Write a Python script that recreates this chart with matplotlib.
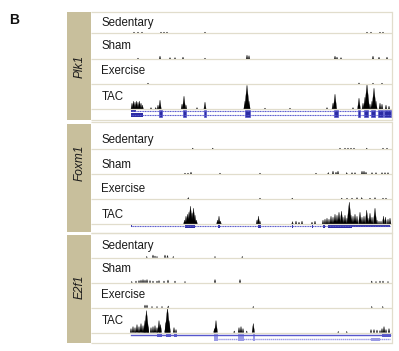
import matplotlib
matplotlib.use("Agg")
import matplotlib.pyplot as plt
from matplotlib.patches import Rectangle

plt.rcParams['font.family'] = ['Liberation Sans', 'DejaVu Sans']

# ---------------- data (x = genomic position on the browser scale, h = coverage) ----------------
GENES = ["Plk1", "Foxm1", "E2f1"]
TRACKS = ["Sedentary", "Sham", "Exercise", "TAC"]

# Plk1
PLK1_SED_X = [134, 138, 142, 161, 164, 167, 205, 367, 371, 380, 383]
PLK1_SED_H = [1, 1, 1, 1, 1, 1, 1, 1, 1, 1, 1]
PLK1_SHAM_X = [138, 160, 170, 175, 183, 205, 247, 249, 335, 337, 341, 373, 379, 387]
PLK1_SHAM_H = [1, 3, 1.5, 1.5, 2, 1, 4, 3.5, 3, 2, 1.5, 3, 2, 2]
PLK1_EX_X = [148, 359, 373, 382]
PLK1_EX_H = [1, 1.2, 1, 1]
PLK1_TAC_X = [132, 133.5, 135, 136.5, 138, 139.5, 141, 142.5, 151, 155.7, 158, 160, 182, 184, 186,
              197, 205, 245, 247, 249, 265, 290, 327, 333, 335, 353, 359, 363, 365, 367, 370, 372,
              374, 376, 380, 382, 386, 389]
PLK1_TAC_H = [6, 8, 7, 8, 7, 8, 6, 4, 1.5, 1.5, 4, 9, 5, 13, 4,
              1.5, 7, 8, 24, 8, 1, 1, 1.5, 6, 15, 1.5, 11, 6, 12, 25, 5, 8,
              21, 8, 6, 5, 4, 3]

# Foxm1
FOXM1_SED_X = [192.7, 212.7, 340, 345, 348, 351, 354, 366.7, 383, 387]
FOXM1_SED_H = [1, 1, 1, 1, 1, 1, 1, 1, 1, 1]
FOXM1_SHAM_X = [185, 188, 191, 220, 260, 316, 328.3, 333, 336, 338, 346.7, 352, 355, 362, 364,
                366, 372, 376, 382, 385, 388]
FOXM1_SHAM_H = [1, 1, 2, 1, 1, 1, 1.5, 3, 2, 3, 1.5, 1.5, 1.5, 3, 3,
                2, 1.5, 1.5, 1.5, 1.5, 1.5]
FOXM1_EX_X = [188.3, 260, 292.3, 341.7, 347, 352, 357, 361.7, 370, 375, 383, 386]
FOXM1_EX_H = [1.5, 1, 1, 1, 1, 1, 1.5, 1.5, 1, 1.5, 1, 1]
FOXM1_TAC_X = [184.5, 186, 187.5, 189, 190.5, 192, 193.5, 195, 196.5, 217.5, 219, 220.5,
               257, 258.5, 260, 292.5, 296, 299, 302, 312, 315, 323, 325,
               327, 329, 331, 333, 335, 337, 339, 341.5, 343, 345, 347, 349.3, 351, 353, 355,
               357, 360, 362, 364, 366.7, 368, 370, 372, 375, 377, 379, 381, 383.5, 385.5,
               388, 390]
FOXM1_TAC_H = [4, 8, 10, 12, 18, 11, 16, 9, 4, 4, 8, 3,
               4, 8, 3, 2.5, 3, 2, 3, 2, 3, 4, 5,
               6, 5, 8, 7, 10, 9, 12, 13, 7, 9, 6, 22, 9, 8, 10,
               8, 12, 7, 8, 14, 6, 11, 7, 16, 4, 3, 3, 8, 7,
               5, 6]

# E2f1
E2F1_SED_X = [146.7, 153, 155, 157, 165, 167.5, 173.3, 215, 242.3]
E2F1_SED_H = [1, 2.5, 1.5, 1, 2.5, 2, 1, 1, 1]
E2F1_SHAM_X = [131.7, 136, 139, 141, 143, 145, 147, 150, 153, 157, 159, 164, 168, 175, 185,
               215, 240, 371.7, 376, 380, 383, 388]
E2F1_SHAM_H = [1, 1.5, 2, 2.5, 3, 2.5, 3, 2, 1.5, 1.5, 2, 1.5, 2.5, 1.5, 1,
               3, 3, 1.5, 1, 1.5, 1.5, 1]
E2F1_EX_X = [145, 147, 152, 157, 162, 168.3, 253.3, 371.7, 382.7]
E2F1_EX_H = [2.5, 2.5, 1, 1, 1, 1.5, 1, 1, 1]
E2F1_TAC_X = [131, 133, 135, 137, 139, 141, 143, 145, 146.5, 148, 151, 153, 155, 157, 159, 160.5,
              166, 167.5, 169, 174, 176, 214.5, 216, 234.3, 239, 241, 243, 246.7, 253.3,
              338.3, 346.7, 371, 374, 377, 380, 382, 384, 386, 389]
E2F1_TAC_H = [4, 6, 5, 8, 6, 9, 7, 12, 22, 6, 5, 6, 7, 5, 12, 8,
              10, 25, 12, 5, 3, 4, 12, 1.5, 5, 6, 4, 1.5, 9,
              1, 1, 3, 3, 2.5, 2, 4, 6, 3, 4]

# gene models: (start, end) of exons
PLK1_EXONS = [(158.5, 161.5), (182.5, 185.5), (204, 206), (245, 249.5), (334, 338),
              (358, 359.7), (364.3, 367.7), (371, 375), (378.3, 383.3), (384, 391)]
FOXM1_EXONS = [(185, 195), (218, 220), (258.3, 261), (291.7, 293.3), (311.7, 312.7),
               (323.3, 325), (328.3, 351.7)]
FOXM1_UTR = [(351.7, 390)]
E2F1_EXONS_A = [(156.7, 161.7), (166, 170.7), (174, 176.7), (381.7, 390.5)]
E2F1_EXONS_B = [(214.3, 218.3), (238.3, 244.3), (253.3, 255), (371, 380)]

# ---------------- layout ----------------
TAN = '#c8bf9c'
FRAME = '#e1ddcc'
DARK = '#2b2ba3'
MID = '#5656cc'
LIGHT = '#9a9ae4'

fig = plt.figure(figsize=(3.99, 3.51), dpi=100)
ax = fig.add_axes([0, 0, 1, 1])
ax.set_xlim(0, 399)
ax.set_ylim(351, 0)
ax.axis('off')

panels = [
    dict(top=12, bottom=120, tan=(12, 120), lines=[33.3, 59.3, 84.3, 109.3],
         text=[18.3, 41.7, 66, 92.7], label_y=66,
         data=[(PLK1_SED_X, PLK1_SED_H), (PLK1_SHAM_X, PLK1_SHAM_H),
               (PLK1_EX_X, PLK1_EX_H), (PLK1_TAC_X, PLK1_TAC_H)]),
    dict(top=121.7, bottom=233.3, tan=(123.5, 231.5), lines=[149.3, 174.3, 199.3, 224.3],
         text=[135.7, 160, 184, 210], label_y=163,
         data=[(FOXM1_SED_X, FOXM1_SED_H), (FOXM1_SHAM_X, FOXM1_SHAM_H),
               (FOXM1_EX_X, FOXM1_EX_H), (FOXM1_TAC_X, FOXM1_TAC_H)]),
    dict(top=233.3, bottom=343.3, tan=(235, 343), lines=[257.7, 282.7, 307.7, 332.7],
         text=[241.7, 265, 290, 316], label_y=287,
         data=[(E2F1_SED_X, E2F1_SED_H), (E2F1_SHAM_X, E2F1_SHAM_H),
               (E2F1_EX_X, E2F1_EX_H), (E2F1_TAC_X, E2F1_TAC_H)]),
]

X_LEFT, X_TAN_R, X_RIGHT = 66.5, 91, 391.7

ax.text(9.5, 23.5, "B", fontsize=10, fontweight='bold', va='baseline', ha='left', color='#111111')

for gname, p in zip(GENES, panels):
    t0, t1 = p['tan']
    ax.add_patch(Rectangle((X_LEFT, t0), X_TAN_R - X_LEFT, t1 - t0, facecolor=TAN, edgecolor='none'))
    ax.text((X_LEFT + X_TAN_R) / 2 + 0.5, p['label_y'], gname, rotation=90, fontsize=8.6,
            style='italic', ha='center', va='center', color='#1a1a1a')
    for yy in [p['top'], p['bottom']] + p['lines']:
        ax.plot([X_TAN_R, X_RIGHT], [yy, yy], color=FRAME, lw=0.9, solid_capstyle='butt')
    ax.plot([X_RIGHT, X_RIGHT], [p['top'], p['bottom']], color=FRAME, lw=0.9)
    for tname, ty, base, (xs, hs) in zip(TRACKS, p['text'], p['lines'], p['data']):
        ax.text(101.5, ty - 1.5, tname, fontsize=8.3, ha='left', va='top', color='#1a1a1a')
        for x, h in zip(xs, hs):
            hw = 0.55 + 0.08 * h
            ax.fill([x - hw, x, x + hw], [base - 0.3, base - 0.3 - h, base - 0.3],
                    color='black', lw=0.2, ec='black')

# gene models
# Plk1: two isoforms
for yy in (111.3, 115.3):
    ax.plot([130.5, 391], [yy, yy], color=MID, lw=0.8, ls=(0, (1, 0.5)))
ax.add_patch(Rectangle((131, 113.3), 12, 3.4, facecolor=DARK, edgecolor='none'))
ax.add_patch(Rectangle((131, 110.3), 5, 2, facecolor=DARK, edgecolor='none'))
for s, e in PLK1_EXONS:
    ax.add_patch(Rectangle((s, 110.3), e - s, 7, facecolor=DARK, edgecolor=MID, lw=0.5))

# Foxm1
ax.plot([131, 390], [226, 226], color=MID, lw=0.8, ls=(0, (1, 0.5)))
for s, e in FOXM1_EXONS:
    ax.add_patch(Rectangle((s, 224.4), e - s, 3.4, facecolor=DARK, edgecolor='none'))
for s, e in FOXM1_UTR:
    ax.add_patch(Rectangle((s, 225), e - s, 2.2, facecolor=DARK, edgecolor='none'))
ax.add_patch(Rectangle((130.5, 225.2), 1.5, 1.6, facecolor=DARK, edgecolor='none'))

# E2f1
ax.plot([130.7, 390], [335, 335], color=MID, lw=1.0)
ax.plot([214.3, 390], [339, 339], color=LIGHT, lw=1.0, ls=(0, (1, 0.4)))
for s, e in E2F1_EXONS_A:
    ax.add_patch(Rectangle((s, 333.4), e - s, 3.2, facecolor=MID, edgecolor='none'))
for s, e in E2F1_EXONS_B:
    ax.add_patch(Rectangle((s, 333.5) if e - s < 8 else (s, 337.5), e - s,
                           7.2 if e - s < 8 else 3, facecolor=LIGHT, edgecolor='none'))

fig.savefig("out.png", dpi=100)
